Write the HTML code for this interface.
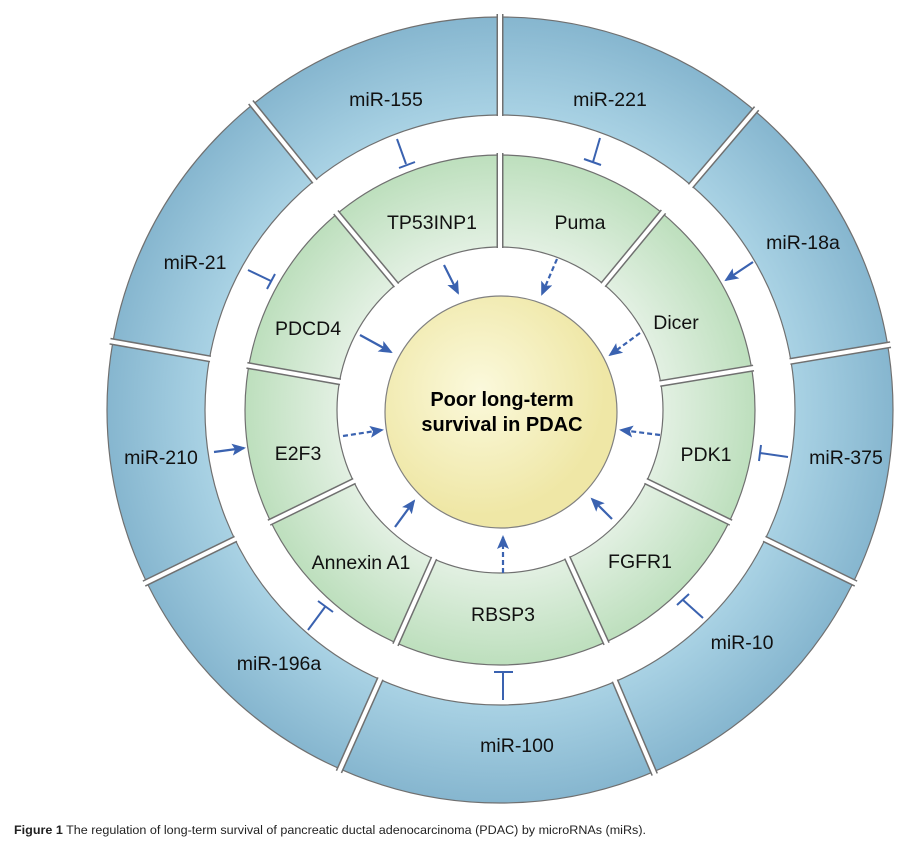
<!DOCTYPE html>
<html><head><meta charset="utf-8"><style>
html,body{margin:0;padding:0;background:#fff;}
svg{display:block;}
text{font-family:"Liberation Sans",Arial,sans-serif;}
</style></head><body>
<svg width="906" height="843" viewBox="0 0 906 843" xmlns="http://www.w3.org/2000/svg">
<defs>
<radialGradient id="gb" gradientUnits="userSpaceOnUse" cx="500" cy="410" r="393">
<stop offset="0.75" stop-color="#a9d2e4"/><stop offset="1" stop-color="#86b6cf"/>
</radialGradient>
<radialGradient id="gg" gradientUnits="userSpaceOnUse" cx="500" cy="410" r="255">
<stop offset="0.64" stop-color="#e2f0e2"/><stop offset="1" stop-color="#bddfbd"/>
</radialGradient>
<radialGradient id="gy" gradientUnits="userSpaceOnUse" cx="480" cy="390" r="125">
<stop offset="0" stop-color="#fbf9dc"/><stop offset="1" stop-color="#efe7a6"/>
</radialGradient>
<marker id="ahb" markerWidth="14" markerHeight="12" refX="12" refY="6" orient="auto" markerUnits="userSpaceOnUse">
<path d="M0,0 L14,6 L0,12 L3,6 Z" fill="#3a62b0"/>
</marker>
</defs>
<circle cx="500" cy="410" r="344" fill="none" stroke="url(#gb)" stroke-width="98"/>
<circle cx="500" cy="410" r="393" fill="none" stroke="#707070" stroke-width="1.2"/>
<circle cx="500" cy="410" r="295" fill="none" stroke="#707070" stroke-width="1.2"/>
<circle cx="500" cy="410" r="209" fill="none" stroke="url(#gg)" stroke-width="92"/>
<circle cx="500" cy="410" r="255" fill="none" stroke="#707070" stroke-width="1.2"/>
<circle cx="500" cy="410" r="163" fill="none" stroke="#707070" stroke-width="1.2"/>
<g transform="translate(500,410)">
<g stroke="#707070" stroke-width="7">
<line x1="294" y1="0" x2="396" y2="0" transform="rotate(-90)"/>
<line x1="294" y1="0" x2="396" y2="0" transform="rotate(-49.6)"/>
<line x1="294" y1="0" x2="396" y2="0" transform="rotate(-9.5)"/>
<line x1="294" y1="0" x2="396" y2="0" transform="rotate(26)"/>
<line x1="294" y1="0" x2="396" y2="0" transform="rotate(67)"/>
<line x1="294" y1="0" x2="396" y2="0" transform="rotate(114)"/>
<line x1="294" y1="0" x2="396" y2="0" transform="rotate(154)"/>
<line x1="294" y1="0" x2="396" y2="0" transform="rotate(190)"/>
<line x1="294" y1="0" x2="396" y2="0" transform="rotate(231)"/>
<line x1="162" y1="0" x2="257" y2="0" transform="rotate(-90)"/>
<line x1="162" y1="0" x2="257" y2="0" transform="rotate(-50.5)"/>
<line x1="162" y1="0" x2="257" y2="0" transform="rotate(-9.4)"/>
<line x1="162" y1="0" x2="257" y2="0" transform="rotate(26)"/>
<line x1="162" y1="0" x2="257" y2="0" transform="rotate(65.5)"/>
<line x1="162" y1="0" x2="257" y2="0" transform="rotate(114)"/>
<line x1="162" y1="0" x2="257" y2="0" transform="rotate(154)"/>
<line x1="162" y1="0" x2="257" y2="0" transform="rotate(190)"/>
<line x1="162" y1="0" x2="257" y2="0" transform="rotate(230.3)"/>
</g>
<g stroke="#fff" stroke-width="4">
<line x1="290" y1="0" x2="400" y2="0" transform="rotate(-90)"/>
<line x1="290" y1="0" x2="400" y2="0" transform="rotate(-49.6)"/>
<line x1="290" y1="0" x2="400" y2="0" transform="rotate(-9.5)"/>
<line x1="290" y1="0" x2="400" y2="0" transform="rotate(26)"/>
<line x1="290" y1="0" x2="400" y2="0" transform="rotate(67)"/>
<line x1="290" y1="0" x2="400" y2="0" transform="rotate(114)"/>
<line x1="290" y1="0" x2="400" y2="0" transform="rotate(154)"/>
<line x1="290" y1="0" x2="400" y2="0" transform="rotate(190)"/>
<line x1="290" y1="0" x2="400" y2="0" transform="rotate(231)"/>
<line x1="158" y1="0" x2="261" y2="0" transform="rotate(-90)"/>
<line x1="158" y1="0" x2="261" y2="0" transform="rotate(-50.5)"/>
<line x1="158" y1="0" x2="261" y2="0" transform="rotate(-9.4)"/>
<line x1="158" y1="0" x2="261" y2="0" transform="rotate(26)"/>
<line x1="158" y1="0" x2="261" y2="0" transform="rotate(65.5)"/>
<line x1="158" y1="0" x2="261" y2="0" transform="rotate(114)"/>
<line x1="158" y1="0" x2="261" y2="0" transform="rotate(154)"/>
<line x1="158" y1="0" x2="261" y2="0" transform="rotate(190)"/>
<line x1="158" y1="0" x2="261" y2="0" transform="rotate(230.3)"/>
</g>
</g>
<circle cx="501" cy="412" r="116" fill="url(#gy)" stroke="#808080" stroke-width="1.2"/>
<text x="502" y="406" text-anchor="middle" font-size="20" font-weight="bold">Poor long-term</text>
<text x="502" y="431" text-anchor="middle" font-size="20" font-weight="bold">survival in PDAC</text>
<g font-size="19.5" text-anchor="middle" fill="#111">
<text x="386" y="106">miR-155</text>
<text x="610" y="106">miR-221</text>
<text x="803" y="249">miR-18a</text>
<text x="195" y="269">miR-21</text>
<text x="846" y="464">miR-375</text>
<text x="742" y="649">miR-10</text>
<text x="517" y="752">miR-100</text>
<text x="279" y="670">miR-196a</text>
<text x="161" y="464">miR-210</text>
<text x="432" y="229">TP53INP1</text>
<text x="580" y="229">Puma</text>
<text x="676" y="329">Dicer</text>
<text x="308" y="335">PDCD4</text>
<text x="298" y="460">E2F3</text>
<text x="706" y="461">PDK1</text>
<text x="361" y="569">Annexin A1</text>
<text x="503" y="621">RBSP3</text>
<text x="640" y="568">FGFR1</text>
</g>
<g stroke="#3a62b0" stroke-width="2" fill="none">
<line x1="397" y1="139" x2="406" y2="164"/><line x1="399" y1="168" x2="415" y2="162"/>
<line x1="600" y1="138" x2="593" y2="162"/><line x1="584" y1="159" x2="601" y2="165"/>
<line x1="248" y1="270" x2="271" y2="281"/><line x1="267" y1="289" x2="275" y2="274"/>
<line x1="788" y1="457" x2="760" y2="453"/><line x1="761" y1="445" x2="759" y2="461"/>
<line x1="703" y1="618" x2="683" y2="600"/><line x1="677" y1="605" x2="689" y2="594"/>
<line x1="503" y1="700" x2="503" y2="672"/><line x1="494" y1="672" x2="513" y2="672"/>
<line x1="308" y1="630" x2="325" y2="607"/><line x1="318" y1="601" x2="333" y2="612"/>
</g>
<g stroke="#3a62b0" stroke-width="2.2" fill="none" marker-end="url(#ahb)">
<line x1="214" y1="452" x2="244" y2="448"/>
<line x1="753" y1="262" x2="726" y2="280"/>
<line x1="444" y1="265" x2="458" y2="293"/>
<line x1="360" y1="335" x2="391" y2="352"/>
<line x1="395" y1="527" x2="414" y2="501"/>
<line x1="612" y1="519" x2="592" y2="499"/>
</g>
<g stroke="#3a62b0" stroke-width="2.2" fill="none" stroke-dasharray="5,3" marker-end="url(#ahb)">
<line x1="557" y1="259" x2="542" y2="294"/>
<line x1="640" y1="333" x2="610" y2="355"/>
<line x1="343" y1="436" x2="382" y2="430"/>
<line x1="660" y1="435" x2="621" y2="430"/>
<line x1="503" y1="573" x2="503" y2="537"/>
</g>
<text x="14" y="834" font-size="12.3" fill="#222" textLength="632" lengthAdjust="spacingAndGlyphs"><tspan font-weight="bold">Figure 1</tspan> The regulation of long-term survival of pancreatic ductal adenocarcinoma (PDAC) by microRNAs (miRs).</text>
</svg>
</body></html>
